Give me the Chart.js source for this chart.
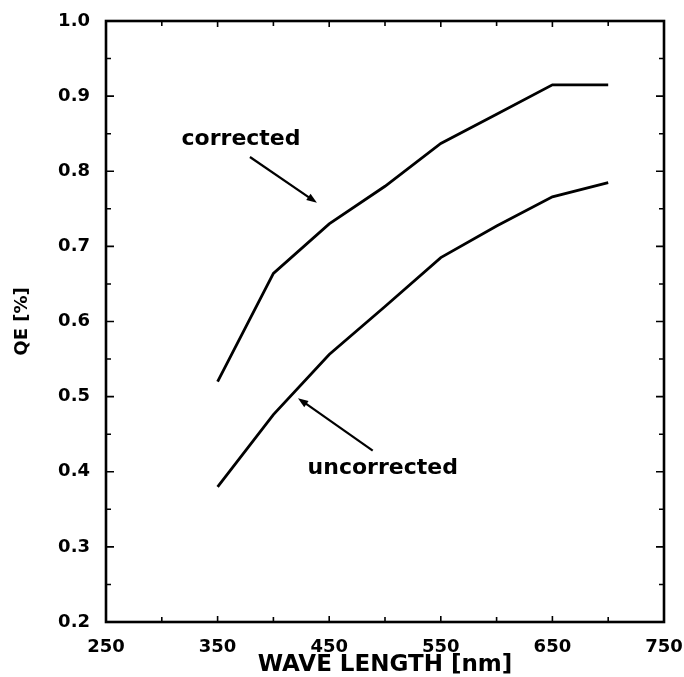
<!DOCTYPE html>
<html>
<head>
<meta charset="utf-8">
<script src="https://cdn.jsdelivr.net/npm/chart.js@4.4.1/dist/chart.umd.min.js"></script>
<style>
  html, body { margin: 0; padding: 0; background: #fff; }
  #wrap { width: 684px; height: 677px; }
</style>
</head>
<body>
<div id="wrap"><canvas id="qeChart" width="684" height="677"></canvas></div>
<script>
const waveLengths = [350, 400, 450, 500, 550, 600, 650, 700];
const qeCorrected = [0.52, 0.664, 0.73, 0.78, 0.837, 0.876, 0.915, 0.915];
const qeUncorrected = [0.38, 0.476, 0.556, 0.62, 0.685, 0.727, 0.766, 0.785];
const xLabelValues = [250, 350, 450, 550, 650, 750];

// labels with arrows, in data units
const notes = [
  { text: 'corrected', x: 371, y: 0.843, from: [379, 0.819], to: [439, 0.758] },
  { text: 'uncorrected', x: 498, y: 0.404, from: [489, 0.428], to: [422, 0.498] }
];

const FONT = "'DejaVu Sans', 'Liberation Sans', Arial, sans-serif";

function toPoints(ys) {
  return waveLengths.map((w, i) => ({ x: w, y: ys[i] }));
}

// box round the plot and inward ticks on all four sides
const framePlugin = {
  id: 'frame',
  afterDatasetsDraw(chart) {
    const { ctx, chartArea: a, scales: { x, y } } = chart;
    ctx.save();
    ctx.strokeStyle = '#000';
    ctx.lineWidth = 1.6;
    ctx.beginPath();
    for (let v = x.min + 50; v < x.max; v += 50) {
      const px = x.getPixelForValue(v);
      const len = xLabelValues.includes(v) ? 6 : 5;
      ctx.moveTo(px, a.bottom); ctx.lineTo(px, a.bottom - len);
      ctx.moveTo(px, a.top); ctx.lineTo(px, a.top + len);
    }
    for (let i = 1; i < 16; i++) {
      const py = y.getPixelForValue(y.min + i * 0.05);
      const len = i % 2 === 0 ? 8 : 5;
      ctx.moveTo(a.left, py); ctx.lineTo(a.left + len, py);
      ctx.moveTo(a.right, py); ctx.lineTo(a.right - len, py);
    }
    ctx.stroke();
    ctx.lineWidth = 2.6;
    ctx.strokeRect(a.left, a.top, a.right - a.left, a.bottom - a.top);
    ctx.restore();
  }
};

const notePlugin = {
  id: 'notes',
  afterDatasetsDraw(chart) {
    const { ctx, scales: { x, y } } = chart;
    ctx.save();
    ctx.fillStyle = '#000';
    ctx.strokeStyle = '#000';
    ctx.font = `bold 22px ${FONT}`;
    ctx.textAlign = 'center';
    ctx.textBaseline = 'middle';
    notes.forEach(n => {
      ctx.fillText(n.text, x.getPixelForValue(n.x), y.getPixelForValue(n.y));
      const x0 = x.getPixelForValue(n.from[0]), y0 = y.getPixelForValue(n.from[1]);
      const x1 = x.getPixelForValue(n.to[0]), y1 = y.getPixelForValue(n.to[1]);
      const ang = Math.atan2(y1 - y0, x1 - x0);
      const head = 11;
      ctx.lineWidth = 2.2;
      ctx.beginPath();
      ctx.moveTo(x0, y0);
      ctx.lineTo(x1 - Math.cos(ang) * head * 0.8, y1 - Math.sin(ang) * head * 0.8);
      ctx.stroke();
      ctx.beginPath();
      ctx.moveTo(x1, y1);
      ctx.lineTo(x1 - head * Math.cos(ang - 0.35), y1 - head * Math.sin(ang - 0.35));
      ctx.lineTo(x1 - head * Math.cos(ang + 0.35), y1 - head * Math.sin(ang + 0.35));
      ctx.closePath();
      ctx.fill();
    });
    ctx.restore();
  }
};

new Chart(document.getElementById('qeChart'), {
  type: 'line',
  data: {
    datasets: [
      { label: 'corrected', data: toPoints(qeCorrected), borderColor: '#000', borderWidth: 2.8, pointRadius: 0, tension: 0 },
      { label: 'uncorrected', data: toPoints(qeUncorrected), borderColor: '#000', borderWidth: 2.8, pointRadius: 0, tension: 0 }
    ]
  },
  options: {
    responsive: false,
    animation: false,
    layout: { padding: { top: 21, right: 20, left: 0, bottom: 0 } },
    plugins: { legend: { display: false }, tooltip: { enabled: false } },
    scales: {
      x: {
        type: 'linear',
        min: 250,
        max: 750,
        grid: { display: false },
        border: { display: false },
        afterFit: s => { s.height = 55; s.paddingLeft = 0; s.paddingRight = 0; },
        ticks: {
          stepSize: 50,
          autoSkip: false,
          maxRotation: 0,
          padding: 7,
          color: '#000',
          font: { family: FONT, size: 18, weight: 'bold' },
          callback: v => xLabelValues.includes(v) ? String(v) : ''
        },
        title: {
          display: true,
          text: 'WAVE LENGTH [nm]',
          color: '#000',
          padding: 0,
          font: { family: FONT, size: 23, weight: 'bold', lineHeight: 1 }
        }
      },
      y: {
        min: 0.2,
        max: 1.0,
        grid: { display: false, drawTicks: false },
        border: { display: false },
        afterFit: s => { s.width = 106; s.paddingTop = 0; s.paddingBottom = 0; },
        ticks: {
          stepSize: 0.1,
          padding: 16,
          color: '#000',
          font: { family: FONT, size: 18, weight: 'bold' },
          callback: v => v.toFixed(1)
        },
        title: {
          display: true,
          text: 'QE [%]',
          color: '#000',
          padding: { top: 12, bottom: 0 },
          font: { family: FONT, size: 18, weight: 'bold' }
        }
      }
    }
  },
  plugins: [framePlugin, notePlugin]
});
</script>
</body>
</html>
